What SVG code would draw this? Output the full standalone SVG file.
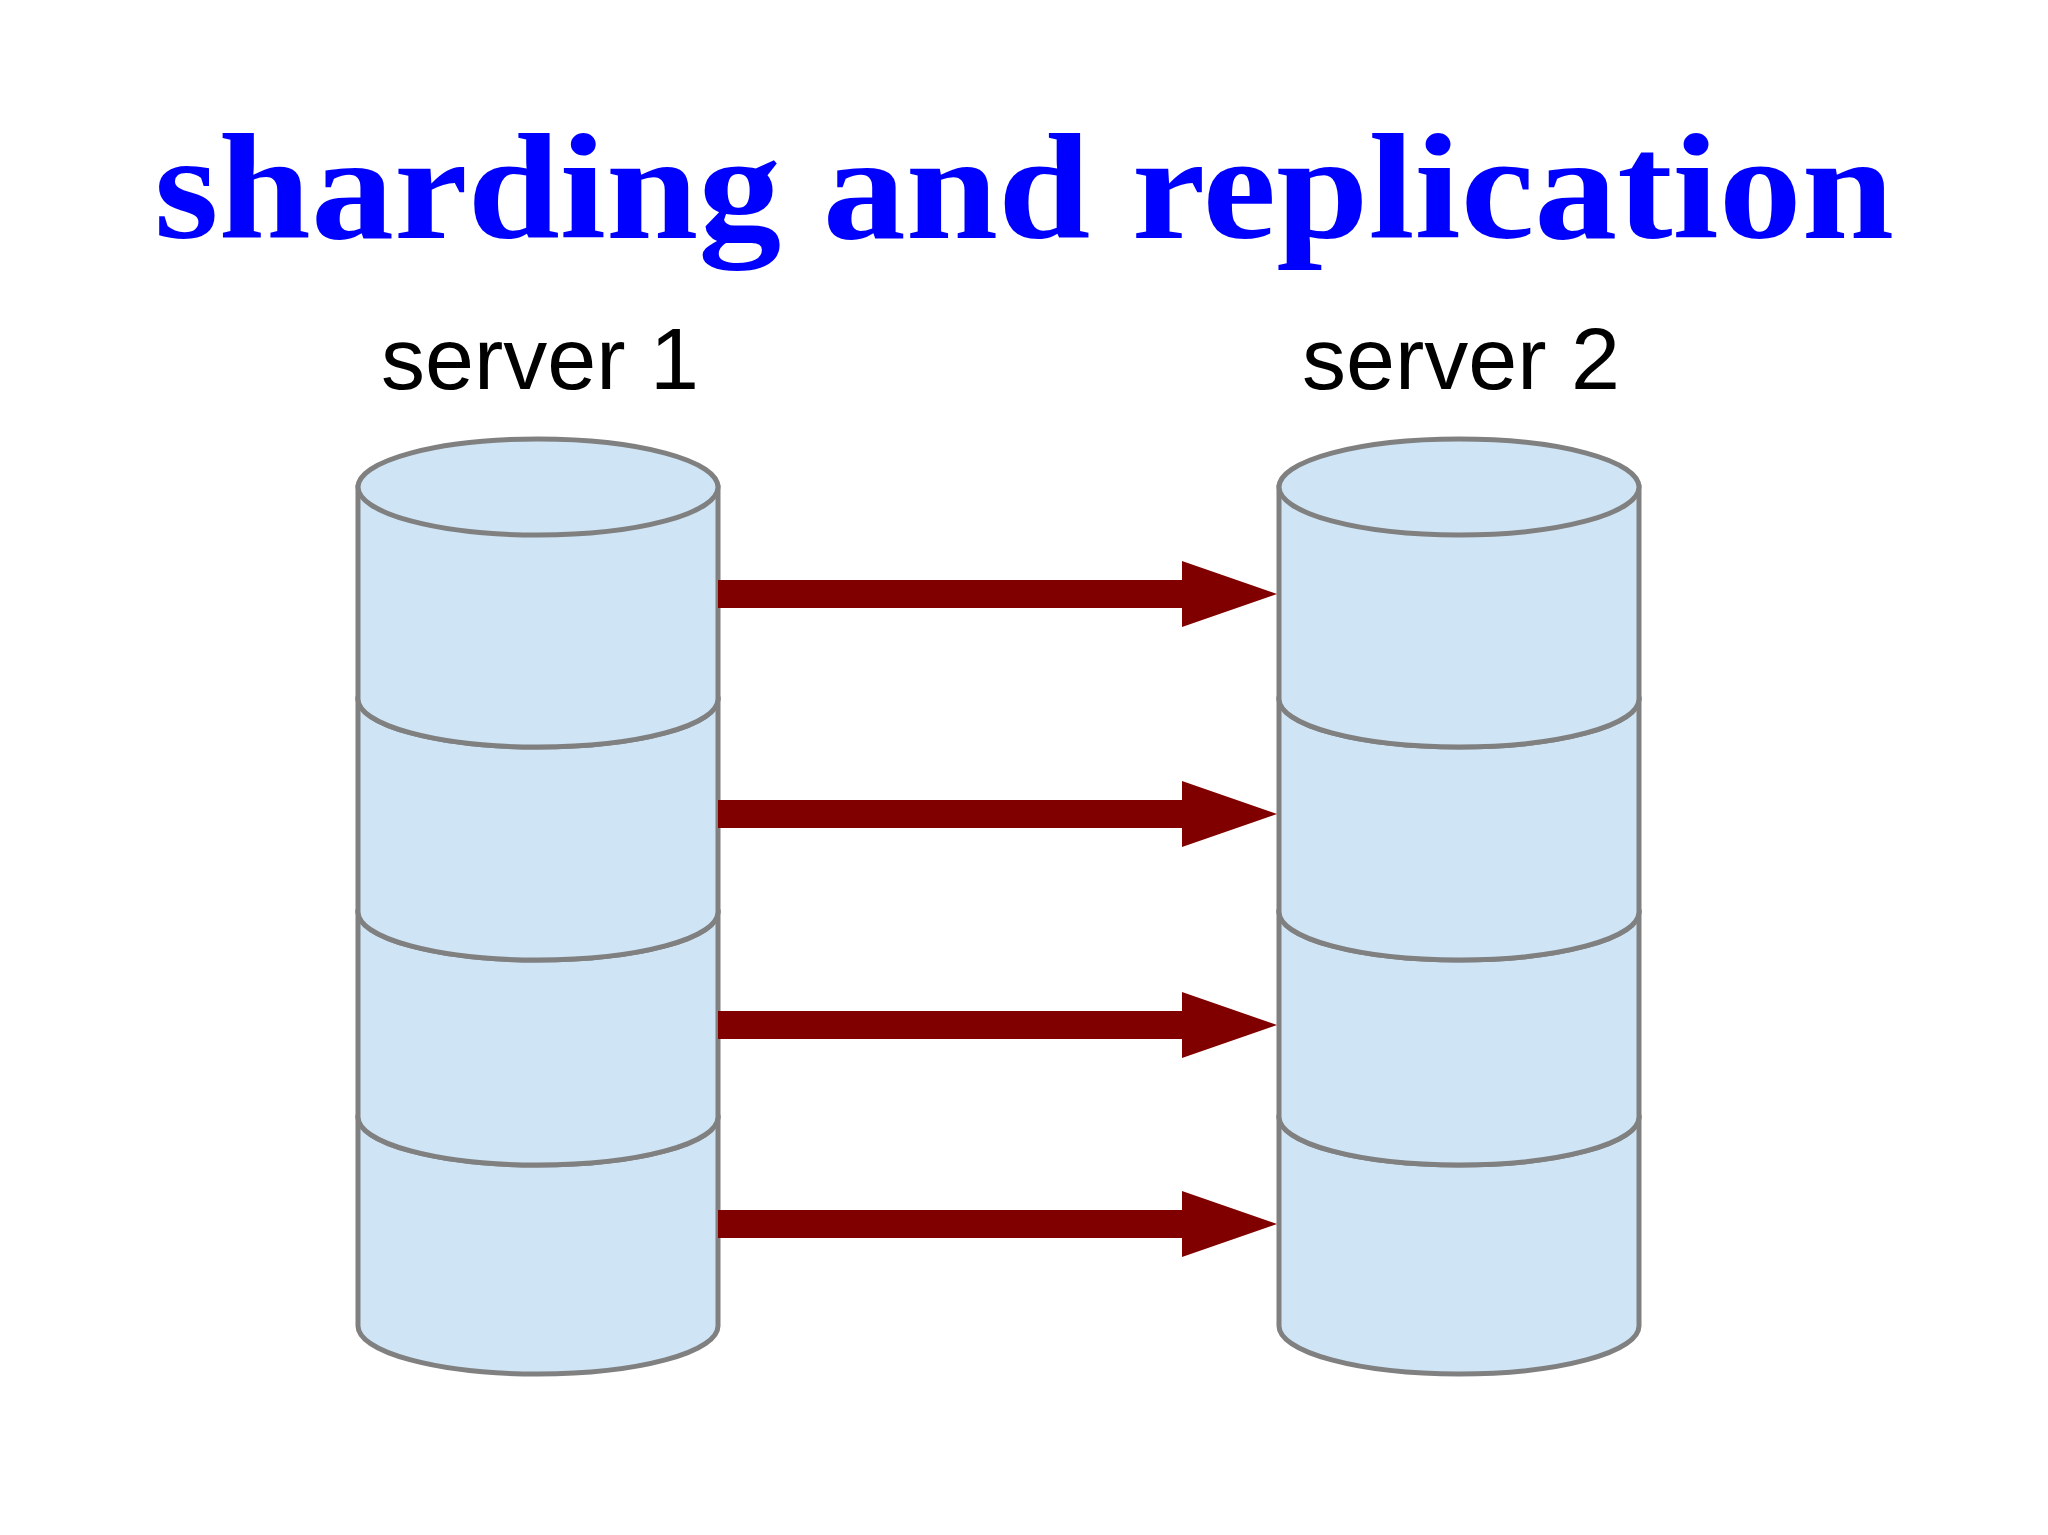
<svg xmlns="http://www.w3.org/2000/svg" width="2048" height="1535" viewBox="0 0 2048 1535">
<style>
.seg{fill:#cfe5f5;stroke:#808080;stroke-width:5}
.arr{fill:#800000}
.lbl{font-family:"Liberation Sans",Arial,sans-serif;font-size:88px;fill:#000}
</style>
<rect width="2048" height="1535" fill="#fff"/>
<text x="154" y="238" font-family="Liberation Serif,serif" font-weight="bold" font-size="150" fill="#0000ff" textLength="1740" lengthAdjust="spacingAndGlyphs">sharding and replication</text>
<text class="lbl" x="381" y="389">server 1</text>
<text class="lbl" x="1302" y="389">server 2</text>
<g id="server1">
<path class="seg" d="M358 1117 V1326 A180 48 0 0 0 718 1326 V1117 A180 48 0 0 0 358 1117Z"/>
<ellipse class="seg" cx="538" cy="1117" rx="180" ry="48"/>
<path class="seg" d="M358 912 V1117 A180 48 0 0 0 718 1117 V912 Z"/>
<ellipse class="seg" cx="538" cy="912" rx="180" ry="48"/>
<path class="seg" d="M358 699 V912 A180 48 0 0 0 718 912 V699 Z"/>
<ellipse class="seg" cx="538" cy="699" rx="180" ry="48"/>
<path class="seg" d="M358 487 V699 A180 48 0 0 0 718 699 V487 Z"/>
<ellipse class="seg" cx="538" cy="487" rx="180" ry="48"/>
</g>
<g id="server2">
<path class="seg" d="M1279 1117 V1326 A180 48 0 0 0 1639 1326 V1117 A180 48 0 0 0 1279 1117Z"/>
<ellipse class="seg" cx="1459" cy="1117" rx="180" ry="48"/>
<path class="seg" d="M1279 912 V1117 A180 48 0 0 0 1639 1117 V912 Z"/>
<ellipse class="seg" cx="1459" cy="912" rx="180" ry="48"/>
<path class="seg" d="M1279 699 V912 A180 48 0 0 0 1639 912 V699 Z"/>
<ellipse class="seg" cx="1459" cy="699" rx="180" ry="48"/>
<path class="seg" d="M1279 487 V699 A180 48 0 0 0 1639 699 V487 Z"/>
<ellipse class="seg" cx="1459" cy="487" rx="180" ry="48"/>
</g>
<g id="connectors">
<path class="arr" d="M718 580 H1182 V561 L1277 594 L1182 627 V608 H718Z"/>
<path class="arr" d="M718 800 H1182 V781 L1277 814 L1182 847 V828 H718Z"/>
<path class="arr" d="M718 1011 H1182 V992 L1277 1025 L1182 1058 V1039 H718Z"/>
<path class="arr" d="M718 1210 H1182 V1191 L1277 1224 L1182 1257 V1238 H718Z"/>
</g>
</svg>
